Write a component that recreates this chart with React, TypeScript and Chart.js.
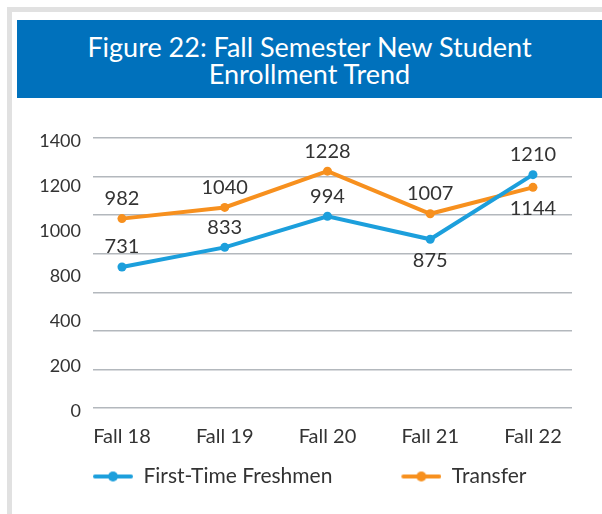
import { useEffect, useRef } from 'react';
import { Chart, registerables } from 'chart.js';

Chart.register(...registerables);

const titleLines = ['Figure 22: Fall Semester New Student', 'Enrollment Trend'];
const categories = ['Fall 18', 'Fall 19', 'Fall 20', 'Fall 21', 'Fall 22'];
const seriesNames = ['First-Time Freshmen', 'Transfer'];
const firstTimeFreshmen = [731, 833, 994, 875, 1210];
const transfer = [982, 1040, 1228, 1007, 1144];
const yTickLabels = ['1400', '1200', '1000', '800', '400', '200', '0'];
const freshmenLabelSide = ['above', 'above', 'above', 'below', 'above'];
const transferLabelSide = ['above', 'above', 'above', 'above', 'below'];

const BLUE = '#1c9fdc';
const ORANGE = '#f7901e';
const TEXT = '#333333';
const FONT = 'Lato';
const LEGEND_W = 109;

function makeLegendMark(color: string): HTMLCanvasElement {
  const c = document.createElement('canvas');
  c.width = LEGEND_W;
  c.height = 12;
  const g = c.getContext('2d')!;
  g.strokeStyle = color;
  g.lineWidth = 4;
  g.lineCap = 'round';
  g.beginPath();
  g.moveTo(LEGEND_W - 38, 6);
  g.lineTo(LEGEND_W - 2, 6);
  g.stroke();
  g.fillStyle = color;
  g.beginPath();
  g.arc(LEGEND_W - 20, 6, 5, 0, Math.PI * 2);
  g.fill();
  return c;
}

const valueLabelPlugin = {
  id: 'valueLabels',
  afterDatasetsDraw(chart: any) {
    const ctx = chart.ctx;
    ctx.save();
    ctx.font = `20px ${FONT}`;
    ctx.fillStyle = TEXT;
    ctx.textAlign = 'center';
    ctx.textBaseline = 'middle';
    chart.data.datasets.forEach((ds: any, i: number) => {
      const meta = chart.getDatasetMeta(i);
      meta.data.forEach((pt: any, j: number) => {
        const below = ds.labelSide[j] === 'below';
        const y = below ? pt.y + 21 : pt.y - 20;
        ctx.fillText(String(ds.values[j]), pt.x, y);
      });
    });
    ctx.restore();
  },
};

export default function App() {
  const canvasRef = useRef<HTMLCanvasElement | null>(null);

  useEffect(() => {
    if (!canvasRef.current) return;
    const marks = [makeLegendMark(BLUE), makeLegendMark(ORANGE)];
    const chart = new Chart(canvasRef.current, {
      type: 'line',
      data: {
        datasets: [
          {
            label: seriesNames[0],
            data: firstTimeFreshmen.map((v, i) => ({ x: i, y: v })),
            values: firstTimeFreshmen,
            labelSide: freshmenLabelSide,
            borderColor: BLUE,
            backgroundColor: BLUE,
            pointBackgroundColor: BLUE,
            pointBorderColor: BLUE,
            borderWidth: 4,
            pointRadius: 4.5,
            pointBorderWidth: 0,
            tension: 0,
            xAxisID: 'x',
            yAxisID: 'y',
          } as any,
          {
            label: seriesNames[1],
            data: transfer.map((v, i) => ({ x: i, y: v })),
            values: transfer,
            labelSide: transferLabelSide,
            borderColor: ORANGE,
            backgroundColor: ORANGE,
            pointBackgroundColor: ORANGE,
            pointBorderColor: ORANGE,
            borderWidth: 4,
            pointRadius: 4.5,
            pointBorderWidth: 0,
            tension: 0,
            xAxisID: 'x',
            yAxisID: 'y',
          } as any,
        ],
      },
      options: {
        animation: false,
        responsive: true,
        maintainAspectRatio: false,
        layout: { padding: { left: 12, right: 30, top: 38, bottom: 17 } },
        scales: {
          x: {
            type: 'linear',
            min: -0.282,
            max: 4.38,
            grid: { display: false, drawTicks: false },
            border: { display: false },
            afterBuildTicks: (s: any) => {
              s.ticks = categories.map((_, i) => ({ value: i }));
            },
            ticks: {
              callback: (v: any) => categories[v] ?? '',
              font: { family: FONT, size: 20 },
              color: TEXT,
              padding: 17,
              maxRotation: 0,
              autoSkip: false,
            },
          },
          y: {
            type: 'linear',
            position: 'left',
            min: 0,
            max: 1400,
            ticks: { stepSize: 200, display: false },
            grid: { color: '#b3b8bd', lineWidth: 1.5, drawTicks: false },
            border: { display: false },
          },
          yLab: {
            type: 'category',
            labels: yTickLabels,
            position: 'left',
            offset: false,
            grid: { display: false, drawTicks: false },
            border: { display: false },
            afterFit: (s: any) => {
              s.width = 69;
            },
            ticks: {
              font: { family: FONT, size: 18 },
              color: TEXT,
              padding: 12,
              labelOffset: 3,
              autoSkip: false,
            },
          },
        } as any,
        plugins: {
          legend: {
            position: 'bottom',
            align: 'start',
            labels: {
              usePointStyle: true,
              pointStyleWidth: LEGEND_W,
              padding: 0,
              color: TEXT,
              font: { family: FONT, size: 21 },
              generateLabels: (c: any) => {
                const items = Chart.defaults.plugins.legend.labels.generateLabels(c);
                return items.map((it: any, i: number) => ({ ...it, pointStyle: marks[i] }));
              },
            },
          },
          tooltip: { enabled: false },
        },
      },
      plugins: [valueLabelPlugin],
    } as any);
    return () => chart.destroy();
  }, []);

  return (
    <div
      style={{
        position: 'absolute',
        left: 7,
        top: 7,
        width: 590,
        height: 502,
        borderTop: '5px solid #e1e1e1',
        borderLeft: '5px solid #e1e1e1',
        background: '#ffffff',
        overflow: 'hidden',
      }}
    >
      <div
        style={{
          position: 'absolute',
          left: 5,
          top: 8,
          width: 585,
          height: 65,
          paddingTop: 13,
          background: '#0071bc',
          color: '#ffffff',
          fontFamily: FONT,
          fontWeight: 400,
          fontSize: 27,
          lineHeight: '27px',
          textAlign: 'center',
        }}
      >
        {titleLines.map((t) => (
          <div key={t}>{t}</div>
        ))}
      </div>
      <div style={{ position: 'absolute', left: 0, top: 88, width: 590, height: 414 }}>
        <canvas ref={canvasRef} />
      </div>
    </div>
  );
}
